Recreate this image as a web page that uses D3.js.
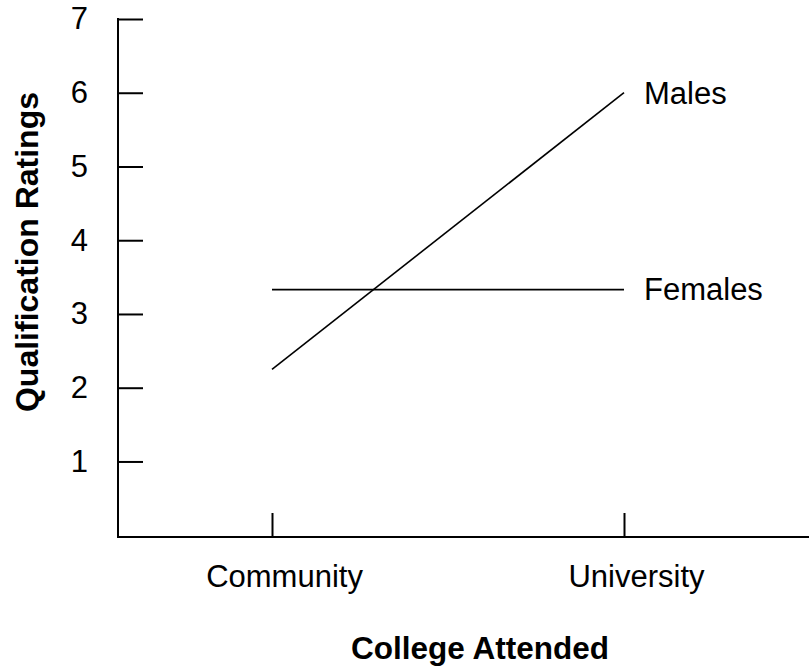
<!DOCTYPE html>
<html>
<head>
<meta charset="utf-8">
<script src="https://cdn.jsdelivr.net/npm/d3@7"></script>
<style>
  html, body { margin: 0; padding: 0; background: #fff; }
  svg { display: block; font-family: "Liberation Sans", Arial, sans-serif; }
</style>
</head>
<body>
<svg id="chart" width="809" height="671"></svg>
<script>
const categories = ["Community", "University"];
const males = [2.25, 6];
const females = [3.33, 3.33];
const seriesNames = ["Males", "Females"];
const yTicks = [1, 2, 3, 4, 5, 6, 7];

const svg = d3.select("#chart");
const axisX0 = 118, axisRight = 809, axisBottomY = 537;

const x = d3.scalePoint().domain(categories).range([272, 624]).padding(0);
const y = d3.scaleLinear().domain([0, 7]).range([535.2, 19]);

// Y axis
const yAxis = svg.append("g")
  .attr("transform", `translate(${axisX0},0)`)
  .call(d3.axisLeft(y).tickValues(yTicks).tickSize(-25).tickPadding(30).tickFormat(d3.format("d")));
yAxis.select(".domain").remove();
yAxis.selectAll(".tick line").attr("stroke", "#000").attr("stroke-width", 2);
yAxis.selectAll(".tick text").attr("font-size", 31).attr("fill", "#000")
  .attr("font-family", "Liberation Sans, Arial, sans-serif");
svg.append("line").attr("x1", axisX0).attr("x2", axisX0)
  .attr("y1", y(7) - 1).attr("y2", axisBottomY + 1)
  .attr("stroke", "#000").attr("stroke-width", 2);

// X axis
const xAxis = svg.append("g")
  .attr("transform", `translate(0,${axisBottomY})`)
  .call(d3.axisBottom(x).tickSize(-24).tickPadding(28));
xAxis.select(".domain").remove();
xAxis.selectAll(".tick line").attr("stroke", "#000").attr("stroke-width", 2);
xAxis.selectAll(".tick text").attr("font-size", 31).attr("fill", "#000")
  .attr("dx", 12)
  .attr("font-family", "Liberation Sans, Arial, sans-serif");
svg.append("line").attr("x1", axisX0 - 1).attr("x2", axisRight)
  .attr("y1", axisBottomY).attr("y2", axisBottomY)
  .attr("stroke", "#000").attr("stroke-width", 2);

// Lines
const line = d3.line().x((d, i) => x(categories[i])).y(d => y(d));
[males, females].forEach((vals, k) => {
  svg.append("path").datum(vals).attr("d", line)
    .attr("fill", "none").attr("stroke", "#000").attr("stroke-width", 1.6);
  svg.append("text")
    .attr("x", x(categories[1]) + 20)
    .attr("y", y(vals[1]))
    .attr("dy", "0.35em")
    .attr("font-size", 31)
    .attr("fill", "#000")
    .text(seriesNames[k]);
});

// Axis titles
svg.append("text")
  .attr("x", 480).attr("y", 659)
  .attr("text-anchor", "middle")
  .attr("font-size", 31.5).attr("font-weight", "bold")
  .text("College Attended");

svg.append("text")
  .attr("transform", "translate(38,252) rotate(-90)")
  .attr("text-anchor", "middle")
  .attr("font-size", 32).attr("font-weight", "bold")
  .text("Qualification Ratings");
</script>
</body>
</html>
